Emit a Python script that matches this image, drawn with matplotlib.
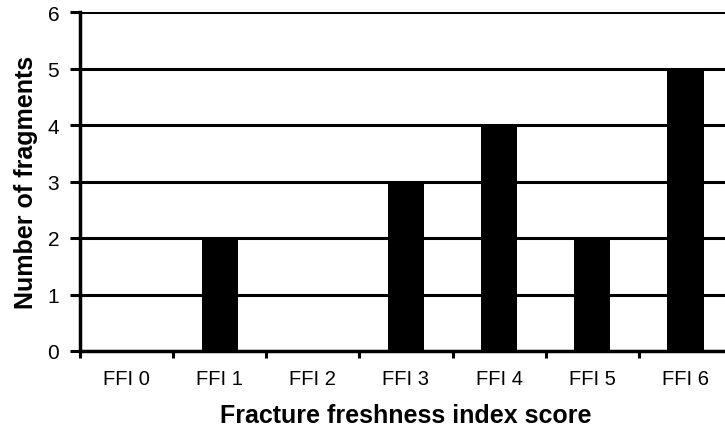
import matplotlib
matplotlib.use("Agg")
import matplotlib.pyplot as plt
import numpy as np

categories = ["FFI 0", "FFI 1", "FFI 2", "FFI 3", "FFI 4", "FFI 5", "FFI 6"]
counts = [0, 2, 0, 3, 4, 2, 5]
y_ticks = [0, 1, 2, 3, 4, 5, 6]

plt.rcParams['font.family'] = ['Liberation Sans', 'DejaVu Sans']

fig = plt.figure(figsize=(7.25, 4.31), dpi=100)
ax = fig.add_axes([80/725, 1-352/431, (732-80)/725, (352-13)/431])

x = np.arange(len(categories))
ax.bar(x, counts, width=0.39, color='black', zorder=3)

ax.set_xlim(-0.5, len(categories) - 0.5)
ax.set_ylim(0, 6)
ax.set_yticks(y_ticks)
ax.set_yticklabels([str(v) for v in y_ticks], fontsize=15)
ax.yaxis.grid(True, color='black', linewidth=2.2, zorder=1)
ax.set_axisbelow(True)

ax.set_xticks(x)
ax.set_xticklabels(categories, fontsize=14.5)
ax.set_xticks(np.arange(-0.5, len(categories), 1), minor=True)
ax.tick_params(axis='x', which='major', length=0, pad=13)
ax.tick_params(axis='x', which='minor', length=5, width=2.2, direction='out')
ax.tick_params(axis='y', length=7, width=2.2, direction='out', pad=8)

for s in ['top', 'right']:
    ax.spines[s].set_visible(False)
for s in ['left', 'bottom']:
    ax.spines[s].set_linewidth(2.5)

ax.set_xlabel("Fracture freshness index score", fontsize=18, fontweight='bold', labelpad=11)
ax.set_ylabel("Number of fragments", fontsize=18, fontweight='bold', labelpad=7)

fig.savefig("out.png", dpi=100)
